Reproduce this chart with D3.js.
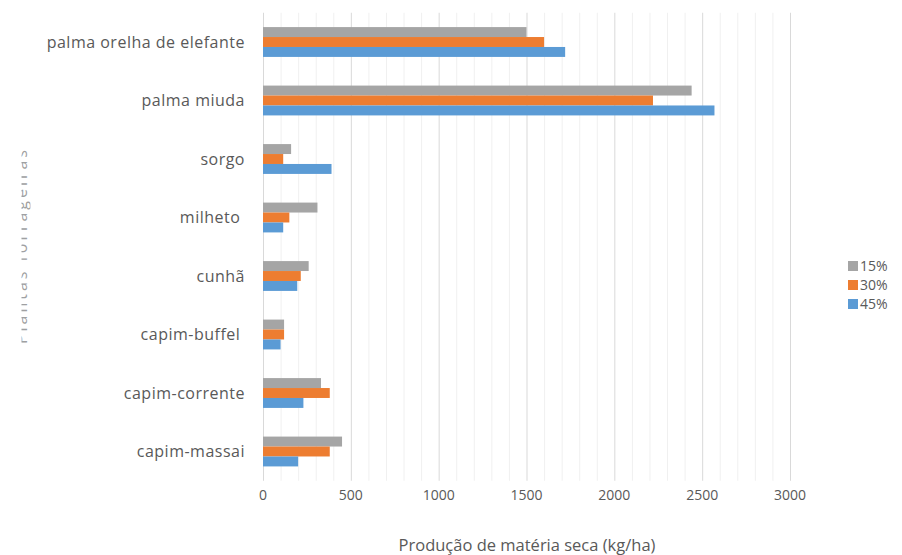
<!DOCTYPE html>
<html>
<head>
<meta charset="utf-8">
<script src="https://cdn.jsdelivr.net/npm/d3@7"></script>
<style>
  body { margin: 0; background: #fff; }
  text { font-family: "Open Sans", sans-serif; fill: #595959; }
</style>
</head>
<body>
<div id="chart"></div>
<script>
var svgWidth = 902;
var svgHeight = 555;

// data
var categories = ["palma orelha de elefante", "palma miuda", "sorgo", "milheto ",
  "cunhã", "capim-buffel ", "capim-corrente", "capim-massai"];
var seriesNames = ["15%", "30%", "45%"];
var values15 = [1500, 2440, 160, 310, 260, 120, 330, 450];
var values30 = [1600, 2220, 115, 150, 215, 120, 380, 380];
var values45 = [1720, 2570, 390, 115, 195, 100, 230, 200];
var xTicks = [0, 500, 1000, 1500, 2000, 2500, 3000];

var colors = ["#a5a5a5", "#ed7d31", "#5b9bd5"];
var allValues = [values15, values30, values45];

var plot = { left: 263, right: 790, top: 12.75, bottom: 480.75 };

var svg = d3.select("#chart")
  .append("svg")
  .attr("width", svgWidth)
  .attr("height", svgHeight);

var x = d3.scaleLinear()
  .domain([0, 3000])
  .range([plot.left, plot.right]);

var y = d3.scaleBand()
  .domain(categories)
  .range([plot.top, plot.bottom])
  .paddingInner(0.49)
  .paddingOuter(0.245);

var ySub = d3.scaleBand()
  .domain(seriesNames)
  .range([0, y.bandwidth()]);

// minor gridlines every 100
svg.append("g")
  .selectAll("line")
  .data(d3.range(100, 3000, 100).filter(d => d % 500 !== 0))
  .enter()
  .append("line")
  .attr("x1", d => x(d) + 0.5)
  .attr("x2", d => x(d) + 0.5)
  .attr("y1", plot.top)
  .attr("y2", plot.bottom)
  .attr("stroke", "#f0f0f0")
  .attr("stroke-width", 1);

// major gridlines
svg.append("g")
  .selectAll("line")
  .data(xTicks)
  .enter()
  .append("line")
  .attr("x1", d => x(d) + 0.5)
  .attr("x2", d => x(d) + 0.5)
  .attr("y1", plot.top)
  .attr("y2", plot.bottom)
  .attr("stroke", "#d9d9d9")
  .attr("stroke-width", 1);

// bars
var groups = svg.append("g")
  .selectAll("g")
  .data(categories)
  .enter()
  .append("g")
  .attr("transform", d => `translate(0, ${y(d)})`);

groups.selectAll("rect")
  .data((d, i) => seriesNames.map((s, j) => ({ s: s, v: allValues[j][i], j: j })))
  .enter()
  .append("rect")
  .attr("x", x(0))
  .attr("y", d => ySub(d.s))
  .attr("width", d => x(d.v) - x(0))
  .attr("height", ySub.bandwidth())
  .attr("fill", d => colors[d.j]);

// category labels
svg.append("g")
  .selectAll("text")
  .data(categories)
  .enter()
  .append("text")
  .attr("x", 245)
  .attr("y", d => y(d) + y.bandwidth() / 2)
  .attr("dy", "0.35em")
  .attr("text-anchor", "end")
  .style("white-space", "pre")
  .style("letter-spacing", "0.5px")
  .attr("font-size", 16)
  .text(d => d);

// x tick labels
svg.append("g")
  .selectAll("text")
  .data(xTicks)
  .enter()
  .append("text")
  .attr("x", d => x(d))
  .attr("y", 500)
  .attr("text-anchor", "middle")
  .attr("font-size", 14)
  .text(d => d);

// x axis title
svg.append("text")
  .attr("x", 527)
  .attr("y", 551)
  .attr("text-anchor", "middle")
  .attr("font-size", 16.5)
  .text("Produção de matéria seca (kg/ha)");

// y axis title, mostly cut off at the left edge
svg.append("clipPath")
  .attr("id", "ycut")
  .append("rect")
  .attr("x", 21.5)
  .attr("y", 0)
  .attr("width", 9)
  .attr("height", svgHeight);

svg.append("g")
  .attr("clip-path", "url(#ycut)")
  .append("text")
  .attr("transform", "translate(27, 247) rotate(-90)")
  .attr("text-anchor", "middle")
  .attr("font-size", 16)
  .attr("textLength", 194)
  .attr("lengthAdjust", "spacing")
  .style("fill", "#a0a0a0")
  .text("Plantas forrageiras");

// legend
var legend = svg.append("g")
  .selectAll("g")
  .data(seriesNames)
  .enter()
  .append("g")
  .attr("transform", (d, i) => `translate(848, ${266 + i * 19})`);

legend.append("rect")
  .attr("x", 0)
  .attr("y", -5)
  .attr("width", 10)
  .attr("height", 10)
  .attr("fill", (d, i) => colors[i]);

legend.append("text")
  .attr("x", 12)
  .attr("y", 0)
  .attr("dy", "0.35em")
  .attr("font-size", 14)
  .text(d => d);
</script>
</body>
</html>
